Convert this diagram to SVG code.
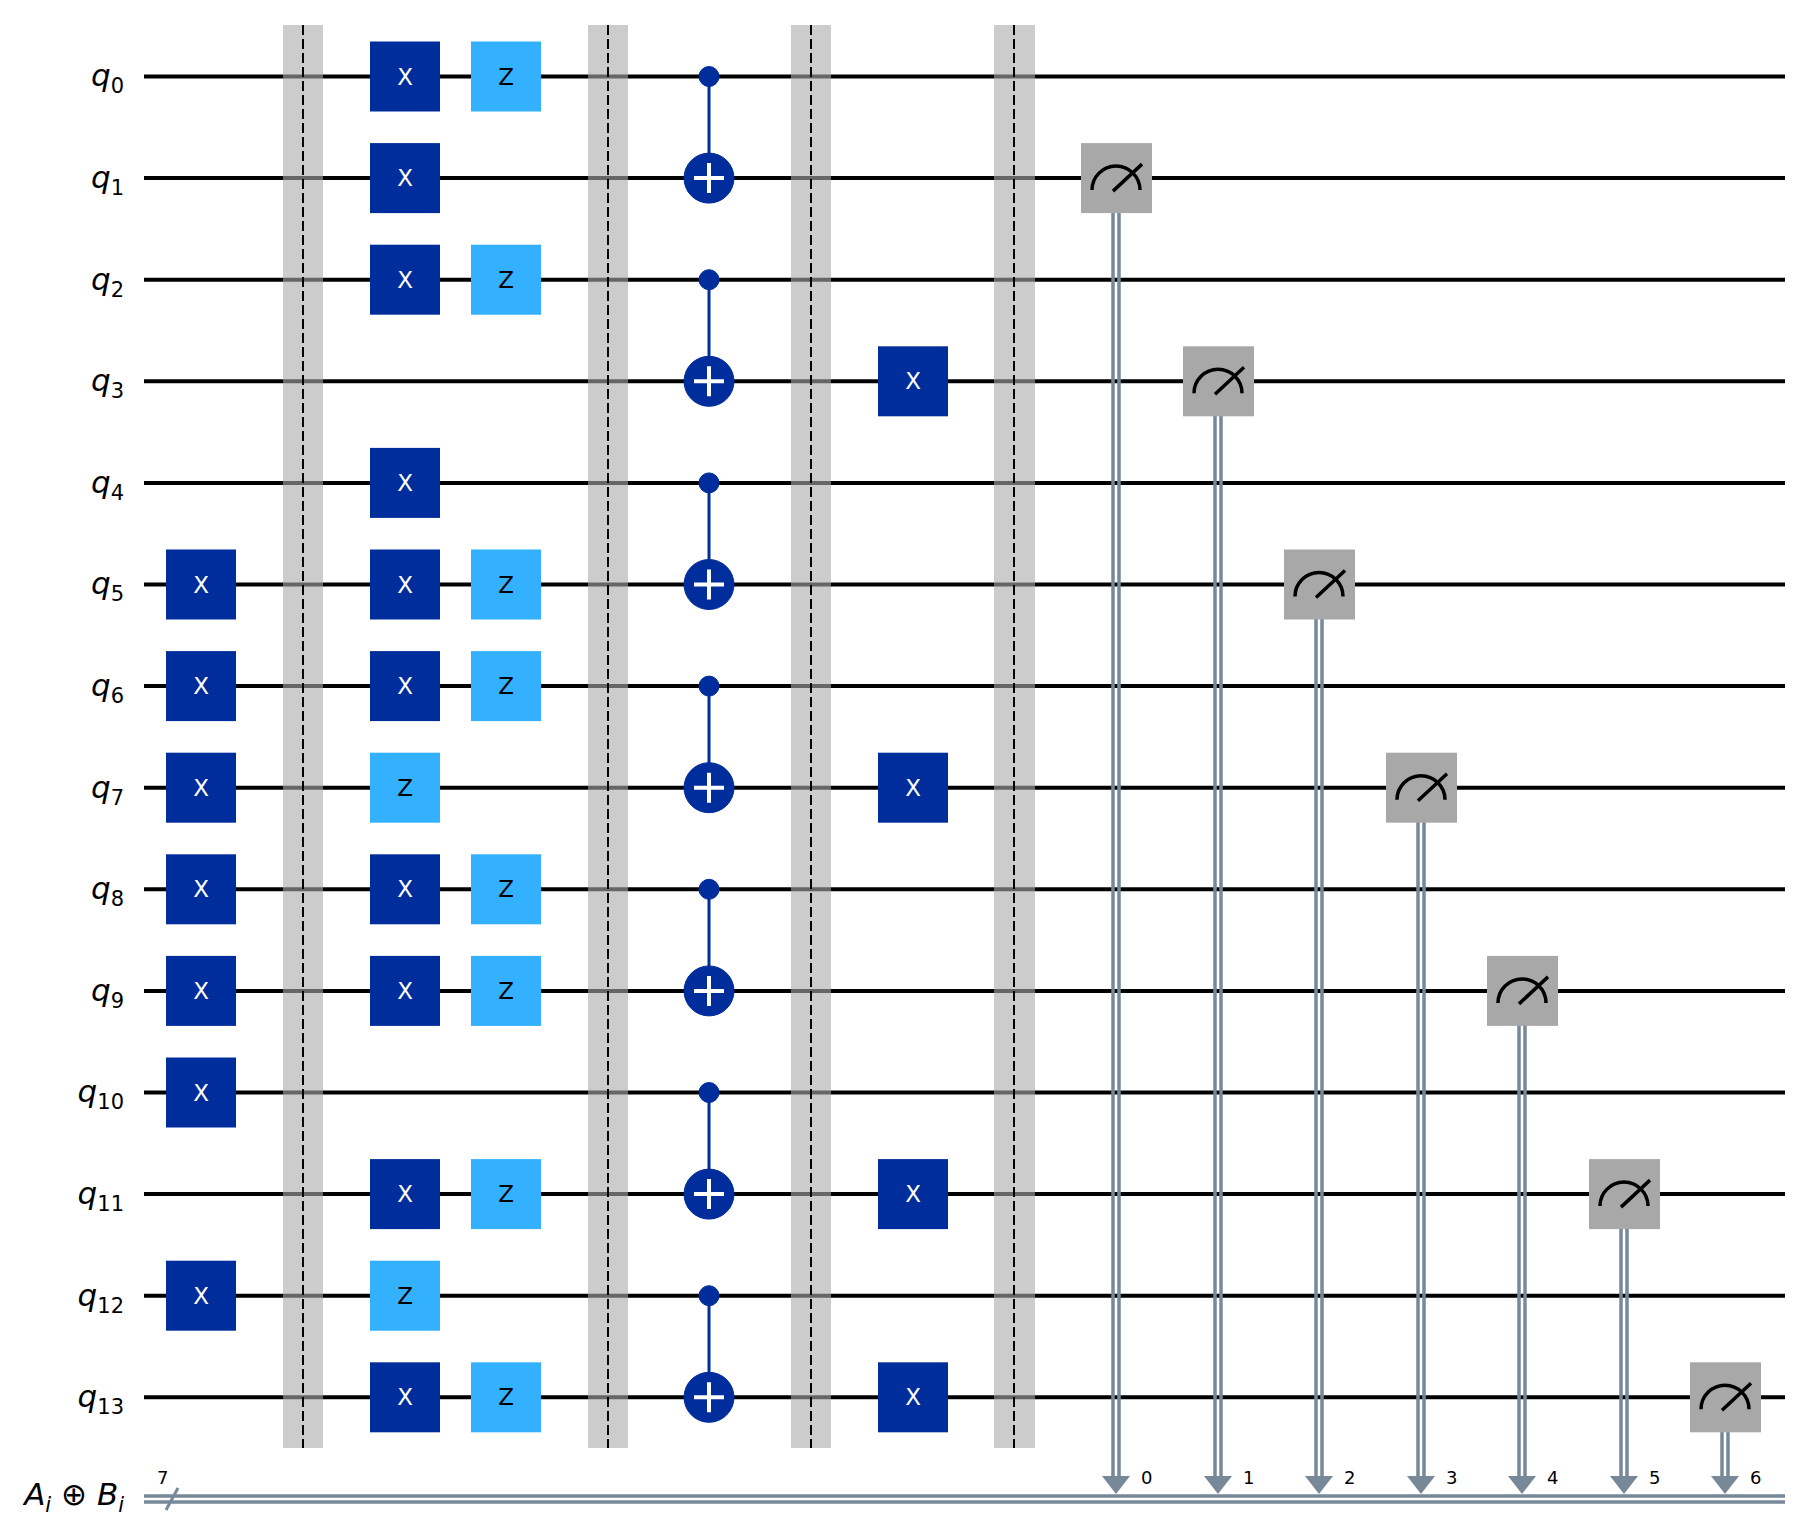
<svg xmlns="http://www.w3.org/2000/svg" width="1806" height="1535" viewBox="0 0 1806 1535">
<style>
.w{stroke:#000;stroke-width:4}
.bar{fill:#aaa;opacity:0.6}
.bl{stroke:#000;stroke-width:2;stroke-dasharray:10,4}
.x{fill:#002D9C}
.z{fill:#33B1FF}
.gt{font-family:"DejaVu Sans",sans-serif;font-size:23px;text-anchor:middle;dominant-baseline:central}
.lab{font-family:"DejaVu Sans",sans-serif;font-style:italic;font-size:31px;text-anchor:end}
.s{font-style:normal;font-size:21px}
.c{stroke:#778899;stroke-width:3.5;fill:none}
.m{fill:#A8A8A8}
.mi{stroke:#000;stroke-width:3.5;fill:none}
.dg{font-family:"DejaVu Sans",sans-serif;font-size:18px}
</style>
<defs>
<g id="X"><rect class="x" x="-35" y="-35" width="70" height="70"/><text class="gt" fill="#fff">X</text></g>
<g id="Z"><rect class="z" x="-35" y="-35" width="70" height="70"/><text class="gt" fill="#000">Z</text></g>
<g id="M"><rect class="m" x="-35" y="-35" width="71" height="70"/><path class="mi" d="M-24,12 A24,24 0 0 1 24,12 M-3,13 L26,-14"/></g>
<g id="T"><circle r="25" fill="#002D9C"/><path d="M-15,0H15M0,-15V15" stroke="#fff" stroke-width="4"/></g>
</defs>
<g id="wires">
<line class="w" x1="144" y1="76.5" x2="1785" y2="76.5"/>
<line class="w" x1="144" y1="178.1" x2="1785" y2="178.1"/>
<line class="w" x1="144" y1="279.7" x2="1785" y2="279.7"/>
<line class="w" x1="144" y1="381.3" x2="1785" y2="381.3"/>
<line class="w" x1="144" y1="482.9" x2="1785" y2="482.9"/>
<line class="w" x1="144" y1="584.5" x2="1785" y2="584.5"/>
<line class="w" x1="144" y1="686.1" x2="1785" y2="686.1"/>
<line class="w" x1="144" y1="787.7" x2="1785" y2="787.7"/>
<line class="w" x1="144" y1="889.3" x2="1785" y2="889.3"/>
<line class="w" x1="144" y1="990.9" x2="1785" y2="990.9"/>
<line class="w" x1="144" y1="1092.5" x2="1785" y2="1092.5"/>
<line class="w" x1="144" y1="1194.1" x2="1785" y2="1194.1"/>
<line class="w" x1="144" y1="1295.7" x2="1785" y2="1295.7"/>
<line class="w" x1="144" y1="1397.3" x2="1785" y2="1397.3"/>
<line class="c" x1="144" y1="1496" x2="1785" y2="1496"/>
<line class="c" x1="144" y1="1502" x2="1785" y2="1502"/>
<line stroke="#778899" stroke-width="3" x1="166" y1="1510" x2="178" y2="1488"/>
</g>
<g id="labels" class="lab">
<text x="124" y="86">q<tspan class="s" dy="7">0</tspan></text>
<text x="124" y="188">q<tspan class="s" dy="7">1</tspan></text>
<text x="124" y="290">q<tspan class="s" dy="7">2</tspan></text>
<text x="124" y="391">q<tspan class="s" dy="7">3</tspan></text>
<text x="124" y="493">q<tspan class="s" dy="7">4</tspan></text>
<text x="124" y="594">q<tspan class="s" dy="7">5</tspan></text>
<text x="124" y="696">q<tspan class="s" dy="7">6</tspan></text>
<text x="124" y="798">q<tspan class="s" dy="7">7</tspan></text>
<text x="124" y="899">q<tspan class="s" dy="7">8</tspan></text>
<text x="124" y="1001">q<tspan class="s" dy="7">9</tspan></text>
<text x="124" y="1102">q<tspan class="s" dy="7">10</tspan></text>
<text x="124" y="1204">q<tspan class="s" dy="7">11</tspan></text>
<text x="124" y="1306">q<tspan class="s" dy="7">12</tspan></text>
<text x="124" y="1407">q<tspan class="s" dy="7">13</tspan></text>
<text x="124" y="1505">A<tspan font-size="21" dy="7">i</tspan><tspan dy="-7" font-style="normal"> ⊕ </tspan>B<tspan font-size="21" dy="7">i</tspan></text>
<text class="dg" font-style="normal" text-anchor="start" x="157" y="1484">7</text>
</g>
<g id="barriers">
<rect class="bar" x="283" y="25" width="40" height="1423"/><line class="bl" x1="303" y1="25" x2="303" y2="1448"/>
<rect class="bar" x="588" y="25" width="40" height="1423"/><line class="bl" x1="608" y1="25" x2="608" y2="1448"/>
<rect class="bar" x="791" y="25" width="40" height="1423"/><line class="bl" x1="811" y1="25" x2="811" y2="1448"/>
<rect class="bar" x="994" y="25" width="41" height="1423"/><line class="bl" x1="1014" y1="25" x2="1014" y2="1448"/>
</g>
<g id="col0">
<use href="#X" x="201" y="584.5"/><use href="#X" x="201" y="686.1"/><use href="#X" x="201" y="787.7"/><use href="#X" x="201" y="889.3"/><use href="#X" x="201" y="990.9"/><use href="#X" x="201" y="1092.5"/><use href="#X" x="201" y="1295.7"/>
</g>
<g id="col1">
<use href="#X" x="405" y="76.5"/><use href="#X" x="405" y="178.1"/><use href="#X" x="405" y="279.7"/><use href="#X" x="405" y="482.9"/><use href="#X" x="405" y="584.5"/><use href="#X" x="405" y="686.1"/><use href="#Z" x="405" y="787.7"/><use href="#X" x="405" y="889.3"/><use href="#X" x="405" y="990.9"/><use href="#X" x="405" y="1194.1"/><use href="#Z" x="405" y="1295.7"/><use href="#X" x="405" y="1397.3"/>
</g>
<g id="col2">
<use href="#Z" x="506" y="76.5"/><use href="#Z" x="506" y="279.7"/><use href="#Z" x="506" y="584.5"/><use href="#Z" x="506" y="686.1"/><use href="#Z" x="506" y="889.3"/><use href="#Z" x="506" y="990.9"/><use href="#Z" x="506" y="1194.1"/><use href="#Z" x="506" y="1397.3"/>
</g>
<g id="cnots" stroke="#002D9C" fill="#002D9C">
<line x1="709" y1="76.5" x2="709" y2="178.1" stroke-width="3"/><circle cx="709" cy="76.5" r="10"/><use href="#T" x="709" y="178.1"/>
<line x1="709" y1="279.7" x2="709" y2="381.3" stroke-width="3"/><circle cx="709" cy="279.7" r="10"/><use href="#T" x="709" y="381.3"/>
<line x1="709" y1="482.9" x2="709" y2="584.5" stroke-width="3"/><circle cx="709" cy="482.9" r="10"/><use href="#T" x="709" y="584.5"/>
<line x1="709" y1="686.1" x2="709" y2="787.7" stroke-width="3"/><circle cx="709" cy="686.1" r="10"/><use href="#T" x="709" y="787.7"/>
<line x1="709" y1="889.3" x2="709" y2="990.9" stroke-width="3"/><circle cx="709" cy="889.3" r="10"/><use href="#T" x="709" y="990.9"/>
<line x1="709" y1="1092.5" x2="709" y2="1194.1" stroke-width="3"/><circle cx="709" cy="1092.5" r="10"/><use href="#T" x="709" y="1194.1"/>
<line x1="709" y1="1295.7" x2="709" y2="1397.3" stroke-width="3"/><circle cx="709" cy="1295.7" r="10"/><use href="#T" x="709" y="1397.3"/>
</g>
<g id="col4">
<use href="#X" x="913" y="381.3"/><use href="#X" x="913" y="787.7"/><use href="#X" x="913" y="1194.1"/><use href="#X" x="913" y="1397.3"/>
</g>
<g id="measure-connectors" fill="#778899">
<path class="c" d="M1113,213V1478M1119,213V1478"/><polygon points="1102,1476 1130,1476 1116,1494"/>
<path class="c" d="M1215,415V1478M1221,415V1478"/><polygon points="1204,1476 1232,1476 1218,1494"/>
<path class="c" d="M1316,617V1478M1322,617V1478"/><polygon points="1305,1476 1333,1476 1319,1494"/>
<path class="c" d="M1418,820V1478M1424,820V1478"/><polygon points="1407,1476 1435,1476 1421,1494"/>
<path class="c" d="M1519,1023V1478M1525,1023V1478"/><polygon points="1508,1476 1536,1476 1522,1494"/>
<path class="c" d="M1621,1226V1478M1627,1226V1478"/><polygon points="1610,1476 1638,1476 1624,1494"/>
<path class="c" d="M1722,1430V1478M1728,1430V1478"/><polygon points="1711,1476 1739,1476 1725,1494"/>
</g>
<g id="measures">
<use href="#M" x="1116" y="178.1"/><use href="#M" x="1218" y="381.3"/><use href="#M" x="1319" y="584.5"/><use href="#M" x="1421" y="787.7"/><use href="#M" x="1522" y="990.9"/><use href="#M" x="1624" y="1194.1"/><use href="#M" x="1725" y="1397.3"/>
</g>
<g id="bits" class="dg">
<text x="1141" y="1484">0</text><text x="1243" y="1484">1</text><text x="1344" y="1484">2</text><text x="1446" y="1484">3</text><text x="1547" y="1484">4</text><text x="1649" y="1484">5</text><text x="1750" y="1484">6</text>
</g>
</svg>
